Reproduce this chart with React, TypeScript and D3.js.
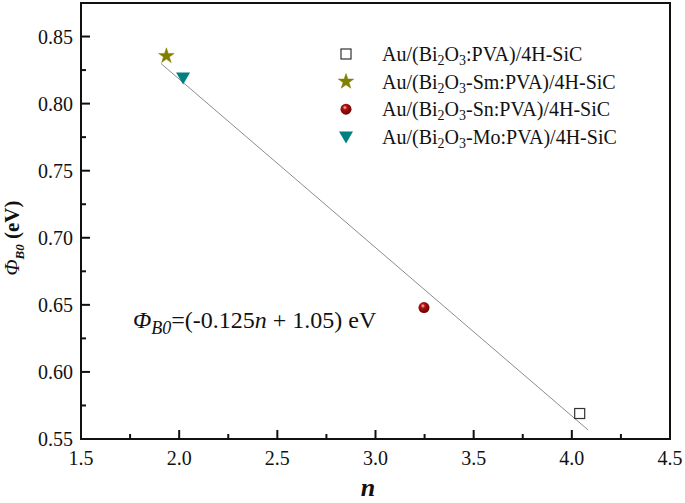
import React from "react";
import * as d3 from "d3";

const seriesNames = ["Au/(Bi2O3:PVA)/4H-SiC", "Au/(Bi2O3-Sm:PVA)/4H-SiC", "Au/(Bi2O3-Sn:PVA)/4H-SiC", "Au/(Bi2O3-Mo:PVA)/4H-SiC"];
const legendParts = [
  ["Au/(Bi", "2", "O", "3", ":PVA)/4H-SiC"],
  ["Au/(Bi", "2", "O", "3", "-Sm:PVA)/4H-SiC"],
  ["Au/(Bi", "2", "O", "3", "-Sn:PVA)/4H-SiC"],
  ["Au/(Bi", "2", "O", "3", "-Mo:PVA)/4H-SiC"],
];
const nValues = [4.04, 1.935, 3.247, 2.02];
const phiValues = [0.569, 0.8355, 0.648, 0.8192];
const markerKinds = ["square", "star", "circle", "triangle"];
const markerColors = ["#333333", "#7f7f00", "#990000", "#008080"];
const fitN = [1.908, 4.083];
const fitPhi = [0.8298, 0.5567];
const xTicks = [1.5, 2.0, 2.5, 3.0, 3.5, 4.0, 4.5];
const yTicks = [0.55, 0.6, 0.65, 0.7, 0.75, 0.8, 0.85];

const W = 685, H = 503;
const L = 81, R = 670, T = 3, B = 439;
const FONT = '"Liberation Serif", "DejaVu Serif", serif';

function Marker({ kind, color, x, y }: { kind: string; color: string; x: number; y: number }) {
  if (kind === "square") {
    return <rect x={x - 5} y={y - 5} width={10} height={10} fill="white" stroke={color} strokeWidth={1.2} />;
  }
  if (kind === "star") {
    const p = d3.symbol().type(d3.symbolStar).size(75)();
    return <path d={p || ""} transform={`translate(${x},${y})`} fill={color} stroke={color} strokeWidth={0.5} />;
  }
  if (kind === "circle") {
    return <circle cx={x} cy={y} r={5.5} fill="url(#ballGrad)" />;
  }
  const s = 7;
  return <path d={`M${x - s},${y - s * 0.75}L${x + s},${y - s * 0.75}L${x},${y + s * 0.95}Z`} fill={color} />;
}

export default function App() {
  const x = d3.scaleLinear().domain([1.5, 4.5]).range([L, R]);
  const y = d3.scaleLinear().domain([0.55, 0.875]).range([B, T]);
  const xMinor = d3.range(0, xTicks.length - 1).map((i) => (xTicks[i] + xTicks[i + 1]) / 2);
  const yMinor = d3.range(0, yTicks.length).map((i) => yTicks[i] + 0.025);
  const line = d3.line<number>().x((_, i) => x(fitN[i])).y((d) => y(d));
  const ts = { fontFamily: FONT };

  return (
    <svg width={W} height={H} style={{ position: "absolute", left: 0, top: 0, background: "white", fontFamily: FONT }}>
      <defs>
        <radialGradient id="ballGrad" cx="0.4" cy="0.35" r="0.65">
          <stop offset="0" stopColor="#ffd0c0" />
          <stop offset="0.3" stopColor="#b01010" />
          <stop offset="1" stopColor="#6a0000" />
        </radialGradient>
      </defs>
      <rect x={0} y={0} width={W} height={H} fill="white" />
      <path d={line(fitPhi) || ""} stroke="#8c8c8c" strokeWidth={1} fill="none" />
      <rect x={L} y={T} width={R - L} height={B - T} fill="none" stroke="#111" strokeWidth={2} />
      {xTicks.map((t) => (
        <g key={"xt" + t}>
          <line x1={x(t)} x2={x(t)} y1={B} y2={B - 9} stroke="#111" strokeWidth={2} />
          <text x={x(t)} y={B + 26} fontSize={20} textAnchor="middle" fill="#111" style={ts}>{t.toFixed(1)}</text>
        </g>
      ))}
      {xMinor.map((t) => (
        <line key={"xm" + t} x1={x(t)} x2={x(t)} y1={B} y2={B - 5} stroke="#111" strokeWidth={2} />
      ))}
      {yTicks.map((t) => (
        <g key={"yt" + t}>
          <line x1={L} x2={L + 9} y1={y(t)} y2={y(t)} stroke="#111" strokeWidth={2} />
          <text x={L - 8} y={y(t) + 7} fontSize={20} textAnchor="end" fill="#111" style={ts}>{t.toFixed(2)}</text>
        </g>
      ))}
      {yMinor.map((t) => (
        <line key={"ym" + t} x1={L} x2={L + 5} y1={y(t)} y2={y(t)} stroke="#111" strokeWidth={2} />
      ))}
      <text x={368} y={496} fontSize={26} fontWeight="bold" fontStyle="italic" textAnchor="middle" fill="#111" style={ts}>n</text>
      <text transform="translate(19,238) rotate(-90)" fontSize={21} textAnchor="middle" fill="#111" style={ts}>
        <tspan fontStyle="italic">Φ</tspan>
        <tspan fontStyle="italic" fontWeight="bold" fontSize={13} dy={5}>B0</tspan>
        <tspan fontWeight="bold" dy={-5}> (eV)</tspan>
      </text>
      <text x={133} y={328} fontSize={24} fill="#111" style={ts}>
        <tspan fontStyle="italic">Φ</tspan>
        <tspan fontStyle="italic" fontSize={18} dy={6}>B0</tspan>
        <tspan dy={-6}>=(-0.125</tspan>
        <tspan fontStyle="italic">n</tspan>
        <tspan> + 1.05) eV</tspan>
      </text>
      {nValues.map((n, i) => (
        <Marker key={seriesNames[i]} kind={markerKinds[i]} color={markerColors[i]} x={x(n)} y={y(phiValues[i])} />
      ))}
      {legendParts.map((parts, i) => {
        const ly = 54 + i * 27.6;
        return (
          <g key={"lg" + i}>
            <Marker kind={markerKinds[i]} color={markerColors[i]} x={346} y={ly} />
            <text x={382} y={ly + 7} fontSize={20} fill="#111" style={ts}>
              <tspan>{parts[0]}</tspan>
              <tspan fontSize={14} dy={4}>{parts[1]}</tspan>
              <tspan dy={-4}>{parts[2]}</tspan>
              <tspan fontSize={14} dy={4}>{parts[3]}</tspan>
              <tspan dy={-4}>{parts[4]}</tspan>
            </text>
          </g>
        );
      })}
    </svg>
  );
}
